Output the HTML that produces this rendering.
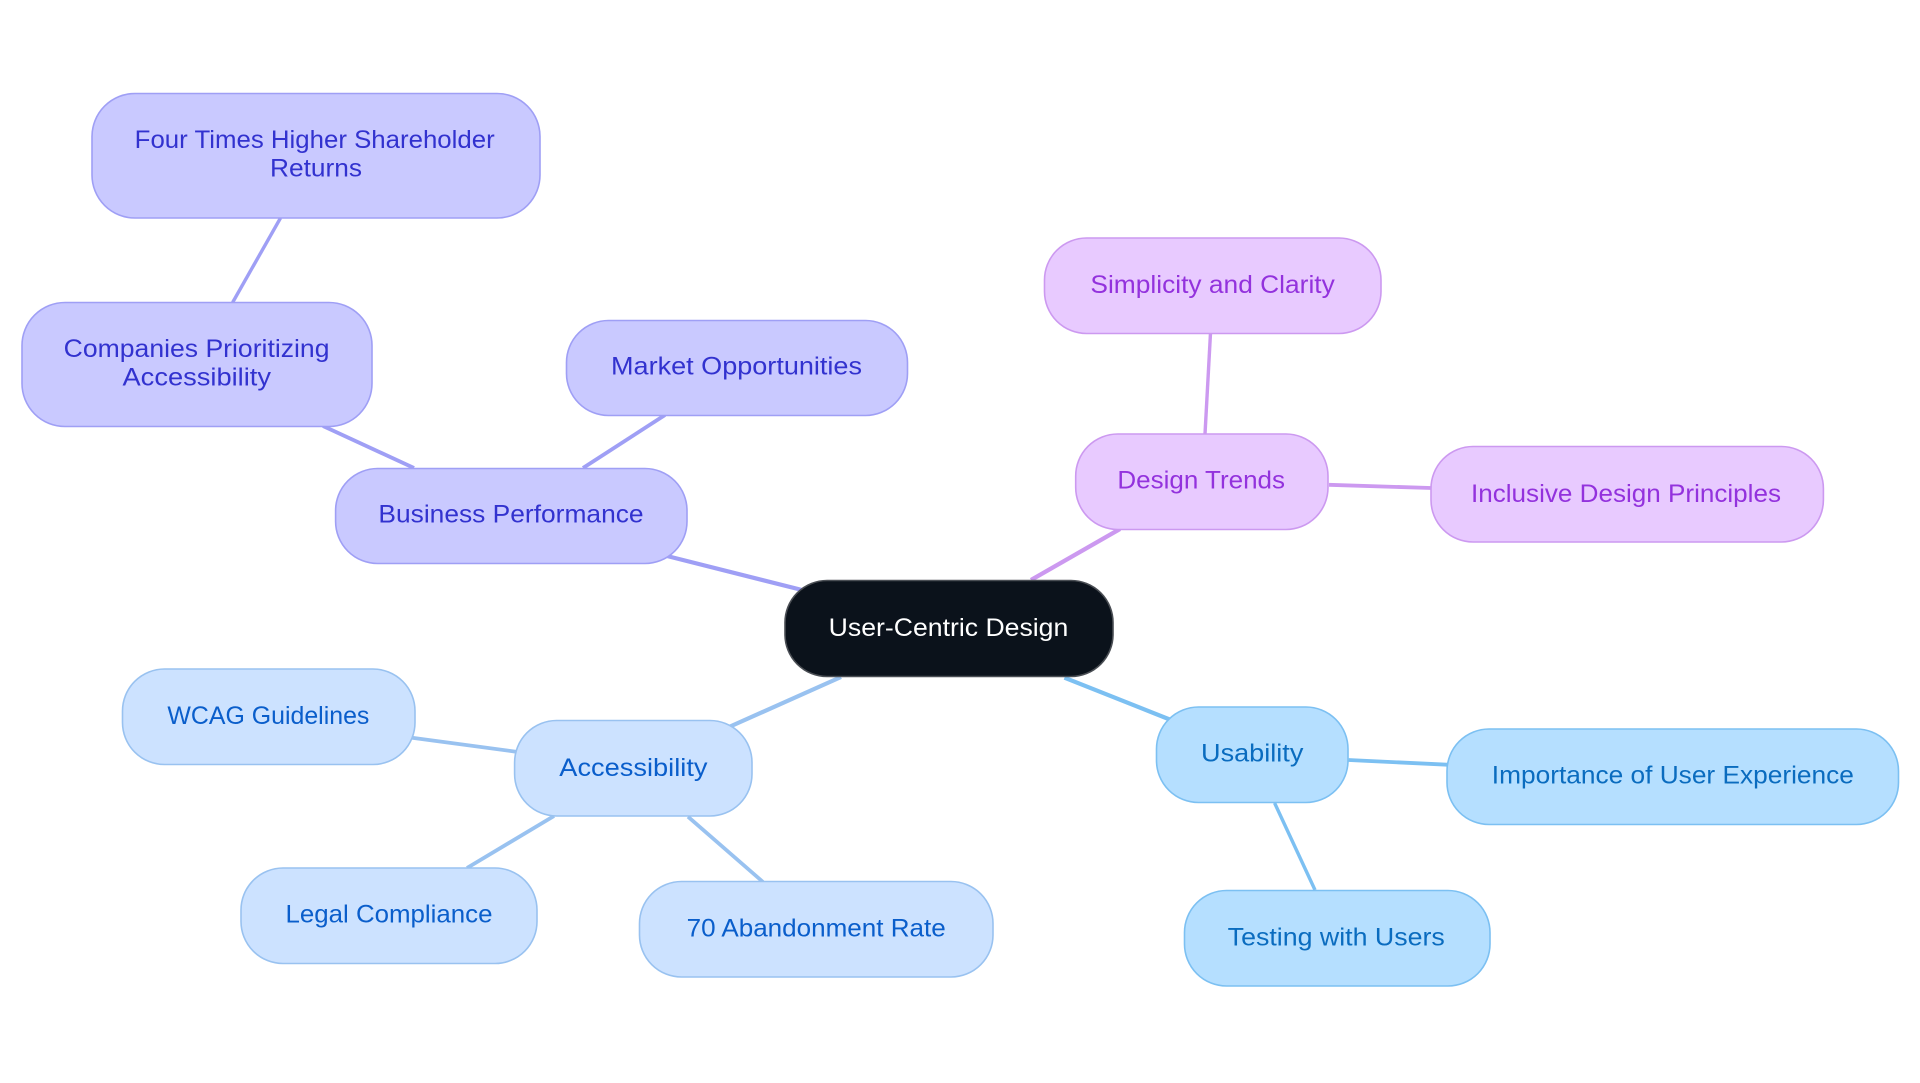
<!DOCTYPE html>
<html lang="en"><head><meta charset="utf-8"><title>User-Centric Design</title>
<style>
html,body{margin:0;padding:0;background:#fff;width:1920px;height:1083px;overflow:hidden}
svg{display:block}
text{font-family:"Liberation Sans",sans-serif;font-size:25px;text-anchor:start}
rect{stroke-width:1.6}
.p rect{fill:#c9c9ff;stroke:#9f9ff5}.p text{fill:#3232cf}
.v rect{fill:#e8caff;stroke:#cc99f0}.v text{fill:#9332dd}
.a rect{fill:#cce2ff;stroke:#99c2f0}.a text{fill:#0a5ecb}
.u rect{fill:#b5dfff;stroke:#7cc0f2}.u text{fill:#0a6cbf}
.r rect{fill:#0b121b;stroke:#4a4e54}.r text{fill:#fff}
.lp line{stroke:#9f9ff5}.lv line{stroke:#cc99f0}.la line{stroke:#99c2f0}.lu line{stroke:#7cc0f2}
</style></head><body>
<svg width="1920" height="1083" viewBox="0 0 1920 1083" xmlns="http://www.w3.org/2000/svg">
<rect x="0" y="0" width="1920" height="1083" style="fill:#fff;stroke:none"/>
<g class="lp">
<line x1="667" y1="556" x2="810" y2="592" stroke-width="4.2"/>
<line x1="323" y1="426" x2="414" y2="468" stroke-width="3.8"/>
<line x1="280.5" y1="218" x2="232.6" y2="302.5" stroke-width="3.4"/>
<line x1="665" y1="415" x2="583" y2="468" stroke-width="3.8"/>
</g>
<g class="lv">
<line x1="1120" y1="529" x2="1031" y2="580" stroke-width="4.2"/>
<line x1="1210.5" y1="333" x2="1205" y2="434" stroke-width="3.4"/>
<line x1="1329" y1="484.8" x2="1431" y2="488" stroke-width="3.8"/>
</g>
<g class="la">
<line x1="841" y1="677" x2="729" y2="727" stroke-width="4.2"/>
<line x1="412" y1="737.7" x2="516" y2="751.7" stroke-width="3.8"/>
<line x1="554" y1="816" x2="467" y2="868" stroke-width="3.8"/>
<line x1="688" y1="816.7" x2="763" y2="882" stroke-width="3.8"/>
</g>
<g class="lu">
<line x1="1064.5" y1="677.7" x2="1171" y2="720" stroke-width="4.2"/>
<line x1="1348.6" y1="760" x2="1447" y2="764.7" stroke-width="3.8"/>
<line x1="1274.6" y1="803" x2="1315" y2="890" stroke-width="3.4"/>
</g>

<g class="p">
<rect x="92" y="93.5" width="448" height="124.5" rx="43" ry="43"/>
<text x="134.7" y="148" textLength="360" lengthAdjust="spacingAndGlyphs">Four Times Higher Shareholder</text>
<text x="270" y="176.5" textLength="92" lengthAdjust="spacingAndGlyphs">Returns</text>
<rect x="22" y="302.5" width="350" height="124" rx="43" ry="43"/>
<text x="63.7" y="357" textLength="265.8" lengthAdjust="spacingAndGlyphs">Companies Prioritizing</text>
<text x="122.5" y="385.4" textLength="148.5" lengthAdjust="spacingAndGlyphs">Accessibility</text>
<rect x="566.5" y="320.5" width="341" height="95" rx="42" ry="42"/>
<text x="611" y="374.7" textLength="251" lengthAdjust="spacingAndGlyphs">Market Opportunities</text>
<rect x="335.6" y="468.5" width="351.4" height="95" rx="42" ry="42"/>
<text x="378.4" y="522.7" textLength="265.2" lengthAdjust="spacingAndGlyphs">Business Performance</text>
</g>
<g class="v">
<rect x="1044.5" y="238" width="336.5" height="95.5" rx="42" ry="42"/>
<text x="1090.4" y="293" textLength="244.4" lengthAdjust="spacingAndGlyphs">Simplicity and Clarity</text>
<rect x="1075.7" y="434" width="252.3" height="95.5" rx="42" ry="42"/>
<text x="1117.4" y="488.6" textLength="167.6" lengthAdjust="spacingAndGlyphs">Design Trends</text>
<rect x="1431" y="446.5" width="392.4" height="95.5" rx="42" ry="42"/>
<text x="1471" y="502" textLength="310" lengthAdjust="spacingAndGlyphs">Inclusive Design Principles</text>
</g>
<g class="a">
<rect x="514.6" y="720.5" width="237.4" height="95.5" rx="42" ry="42"/>
<text x="559.3" y="776" textLength="148.2" lengthAdjust="spacingAndGlyphs">Accessibility</text>
<rect x="122.5" y="669" width="292.5" height="95.5" rx="42" ry="42"/>
<text x="167.4" y="724" textLength="202" lengthAdjust="spacingAndGlyphs">WCAG Guidelines</text>
<rect x="241" y="868" width="296" height="95.5" rx="42" ry="42"/>
<text x="285.5" y="922.7" textLength="207" lengthAdjust="spacingAndGlyphs">Legal Compliance</text>
<rect x="639.5" y="881.5" width="353.5" height="95.5" rx="42" ry="42"/>
<text x="686.6" y="936.7" textLength="259.1" lengthAdjust="spacingAndGlyphs">70 Abandonment Rate</text>
</g>
<g class="u">
<rect x="1156.5" y="707" width="191.5" height="95.5" rx="42" ry="42"/>
<text x="1201" y="761.7" textLength="102.4" lengthAdjust="spacingAndGlyphs">Usability</text>
<rect x="1447" y="729" width="451.5" height="95.5" rx="42" ry="42"/>
<text x="1491.8" y="783.3" textLength="362.1" lengthAdjust="spacingAndGlyphs">Importance of User Experience</text>
<rect x="1184.5" y="890.5" width="305.5" height="95.5" rx="42" ry="42"/>
<text x="1227.7" y="945.3" textLength="217.1" lengthAdjust="spacingAndGlyphs">Testing with Users</text>
</g>
<g class="r">
<rect x="785" y="580.5" width="328" height="96" rx="42" ry="42"/>
<text x="828.7" y="636" textLength="239.6" lengthAdjust="spacingAndGlyphs">User-Centric Design</text>
</g>
</svg>
</body></html>
